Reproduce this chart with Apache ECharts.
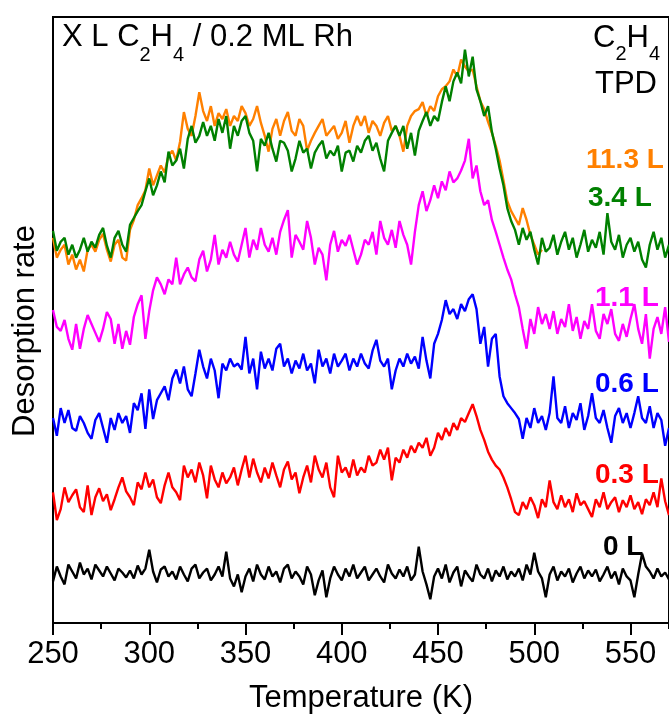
<!DOCTYPE html>
<html>
<head>
<meta charset="utf-8">
<script src="https://cdn.jsdelivr.net/npm/echarts@6.0.0/dist/echarts.min.js"></script>
<style>
html,body{margin:0;padding:0;background:#fff;}
#chart{width:669px;height:719px;}
</style>
</head>
<body>
<div id="chart"></div>
<script>
// Temperature sampling (K): first point and step of the recorded traces
const T_START = 250;
const T_STEP = 2;
const xTicks = [250, 300, 350, 400, 450, 500, 550];

// Desorption rate (arbitrary units, traces offset vertically as in the figure)
const s0L = [45,60,50,42,62,55,48,64,52,58,
 47,62,56,50,60,53,46,58,54,49,
 56,48,61,52,58,77,55,44,57,60,
 50,55,47,60,52,45,58,62,48,54,
 58,46,52,60,50,75,48,40,52,34,
 50,58,45,62,52,47,60,50,55,44,
 58,62,48,55,50,42,60,52,31,46,
 56,29,48,60,52,46,58,50,62,48,
 54,60,46,52,58,50,44,62,53,48,
 57,50,60,46,52,80,55,42,27,50,
 58,48,62,44,54,60,40,56,50,45,
 62,52,48,58,45,56,50,60,47,55,
 50,58,46,62,52,74,55,48,29,52,
 60,46,55,50,58,44,53,60,48,56,
 50,57,45,52,60,48,55,42,58,50,
 46,29,52,73,60,55,48,58,50,54,
 47];

const s03L = [135,107,118,140,125,132,138,120,115,142,
 112,130,139,126,133,117,128,140,150,136,
 130,122,145,138,155,140,148,130,124,142,
 155,140,135,127,162,150,158,145,165,152,
 129,162,148,140,155,144,150,160,142,158,
 172,150,169,155,145,160,149,165,152,140,
 158,166,148,155,134,150,162,145,172,158,
 150,165,140,130,172,155,160,150,168,152,
 160,155,172,162,165,178,168,180,147,170,
 165,178,170,182,175,185,180,190,172,180,
 195,188,200,192,205,198,210,206,215,224,
 212,198,188,176,168,162,158,150,140,128,
 115,112,125,118,130,122,109,128,120,147,
 125,118,132,120,128,115,134,122,126,118,
 110,128,120,135,118,125,130,115,127,120,
 132,118,125,113,128,122,135,120,149,126,
 112];

const s06L = [210,192,220,205,218,200,197,212,205,195,
 189,208,215,200,185,210,198,215,205,212,
 195,225,218,235,199,239,209,228,235,242,
 228,250,259,245,262,239,232,255,279,262,
 250,270,258,230,265,258,270,262,265,259,
 292,255,270,239,277,260,270,258,280,285,
 262,270,255,268,260,275,258,265,245,279,
 262,270,255,275,262,268,275,258,270,262,
 275,265,260,278,289,268,262,270,239,258,
 270,262,275,265,272,260,292,268,250,285,
 295,309,329,315,320,310,325,318,330,335,
 320,285,302,262,290,295,252,232,225,220,
 215,209,189,210,200,220,205,212,198,215,
 252,210,205,222,200,215,208,225,198,212,
 235,210,205,218,200,185,212,220,205,215,
 200,215,232,210,205,222,200,215,208,182,
 200];

const s11L = [319,302,298,309,290,279,305,280,300,314,
 305,296,287,300,317,310,285,305,280,298,
 284,312,325,334,290,318,339,352,345,335,
 350,345,372,345,355,362,352,348,370,379,
 358,370,395,365,380,372,388,375,368,385,
 402,372,390,380,402,385,378,392,375,398,
 410,420,372,395,388,380,409,392,365,382,
 375,349,385,399,378,390,384,395,380,365,
 375,390,385,398,375,409,392,385,400,382,
 409,395,385,365,398,425,439,419,430,445,
 432,449,440,459,448,452,460,470,492,452,
 465,439,425,430,410,398,385,372,360,350,
 335,322,300,280,310,295,322,305,315,300,
 318,295,310,302,325,298,312,290,308,300,
 325,298,290,315,305,320,295,288,305,292,
 310,325,300,285,315,270,300,312,295,322,
 287];

const s34L = [399,379,388,392,375,385,372,380,392,378,
 388,382,395,402,384,372,392,399,385,378,
 405,412,419,425,439,452,435,445,459,448,
 479,465,470,482,462,492,505,488,495,509,
 495,505,490,512,498,515,482,505,495,510,
 515,498,490,459,492,485,498,482,469,490,
 488,480,459,472,490,478,482,462,478,485,
 490,472,480,475,485,459,478,480,469,485,
 478,490,495,480,488,472,459,490,498,505,
 495,505,482,498,475,500,510,519,505,515,
 510,529,545,530,550,559,548,582,555,575,
 542,530,515,525,499,482,462,445,422,409,
 400,385,402,390,398,380,365,392,378,382,
 395,375,388,398,380,392,372,385,400,378,
 390,382,398,375,417,388,380,395,372,385,
 392,378,388,370,362,385,398,380,392,372,
 385];

// 11.3 L trace stops at ~505 K
const s113L = [392,372,380,385,365,375,360,370,358,380,
 385,378,390,396,380,368,385,390,372,369,
 400,410,425,432,440,462,445,455,465,458,
 475,480,470,489,519,502,495,515,539,520,
 510,525,505,518,512,522,505,515,510,525,
 518,505,512,525,508,495,479,502,512,495,
 510,519,500,495,512,505,480,490,498,505,
 512,495,500,505,492,498,510,488,505,515,
 505,515,498,510,505,495,508,515,500,505,
 495,479,505,515,520,522,529,515,525,520,
 535,542,545,550,562,555,572,565,560,562,
 545,530,522,509,498,485,470,450,429,419,
 412,405,422,410,395,385,375,380];

const seriesNames = ['11.3 L','3.4 L','1.1 L','0.6 L','0.3 L','0 L'];
const seriesColors = ['#FF8000','#008000','#FF00FF','#0000FF','#FF0000','#000000'];
const seriesValues = [s113L, s34L, s11L, s06L, s03L, s0L];

function toPairs(vals){
  return vals.map((v,i)=>[T_START + i*T_STEP, v]);
}

const FONT = '"Liberation Sans", Arial, Helvetica, sans-serif';
const chart = echarts.init(document.getElementById('chart'), null, {renderer:'canvas'});

function txt(text, x, y, opts){
  opts = opts || {};
  return {
    type:'text', x:x, y:y, rotation: opts.rotation || 0, z: 100,
    style:{
      text:text, fill: opts.color || '#000',
      fontSize: opts.size || 31, fontFamily: FONT, fontWeight: opts.weight || 'normal',
      align: opts.align || 'left', textAlign: opts.align || 'left',
      verticalAlign:'middle', textVerticalAlign:'middle'
    }
  };
}

const graphics = [
  // top-left title: X L C2H4 / 0.2 ML Rh
  txt('X L C', 62, 37.5),
  txt('2', 139.5, 55, {size:20}),
  txt('H', 150.6, 37.5),
  txt('4', 173, 55, {size:20}),
  txt(' / 0.2 ML Rh', 184.1, 37.5),
  // top-right: C2H4 TPD
  txt('C', 593, 38),
  txt('2', 615.4, 54, {size:20}),
  txt('H', 626.5, 38),
  txt('4', 649, 54, {size:20}),
  txt('TPD', 595, 84),
  // y axis name
  txt('Desorption rate', 25, 331, {rotation: Math.PI/2, align:'center'}),
  // series labels
  txt('11.3 L', 586, 160, {size:28, weight:'bold', color:seriesColors[0]}),
  txt('3.4 L', 588, 198, {size:28, weight:'bold', color:seriesColors[1]}),
  txt('1.1 L', 595, 298, {size:28, weight:'bold', color:seriesColors[2]}),
  txt('0.6 L', 595, 384, {size:28, weight:'bold', color:seriesColors[3]}),
  txt('0.3 L', 595, 475, {size:28, weight:'bold', color:seriesColors[4]}),
  txt('0 L', 603, 547, {size:28, weight:'bold', color:seriesColors[5]})
];

const option = {
  animation:false,
  backgroundColor:'#fff',
  grid:{left:53, top:17, width:619, bottom:90, show:true, borderColor:'#000', borderWidth:2, backgroundColor:'transparent'},
  xAxis:[{
    type:'value', min:xTicks[0], max:570, interval:50, position:'bottom',
    axisLine:{show:true, onZero:false, lineStyle:{color:'#000', width:2}},
    axisTick:{show:true, inside:false, length:12, lineStyle:{color:'#000', width:2}},
    axisLabel:{show:true, margin:16, fontSize:31, color:'#000', fontFamily:FONT, showMaxLabel:false,
      formatter:function(v){ return xTicks.indexOf(v) >= 0 ? String(v) : ''; }},
    splitLine:{show:false},
    name:'Temperature (K)', nameLocation:'middle', nameGap:60,
    nameTextStyle:{fontSize:31, color:'#000', fontFamily:FONT}
  },{
    type:'value', min:xTicks[0], max:570, interval:25, position:'bottom',
    axisLine:{show:false, onZero:false},
    axisTick:{show:true, inside:false, length:6, lineStyle:{color:'#000', width:2}},
    axisLabel:{show:false}, splitLine:{show:false}
  }],
  yAxis:{
    type:'value', min:3, max:615,
    axisLine:{show:true, onZero:false, lineStyle:{color:'#000', width:2}},
    axisTick:{show:false}, axisLabel:{show:false}, splitLine:{show:false}
  },
  series: seriesValues.map((vals, i)=>({
    name: seriesNames[i], type:'line', xAxisIndex:0, yAxisIndex:0,
    data: toPairs(vals), showSymbol:false, symbol:'none', smooth:false,
    lineStyle:{color:seriesColors[i], width:2.4}, itemStyle:{color:seriesColors[i]},
    z: 2 + i, silent:true
  })),
  graphic: graphics
};
chart.setOption(option);
</script>
</body>
</html>
